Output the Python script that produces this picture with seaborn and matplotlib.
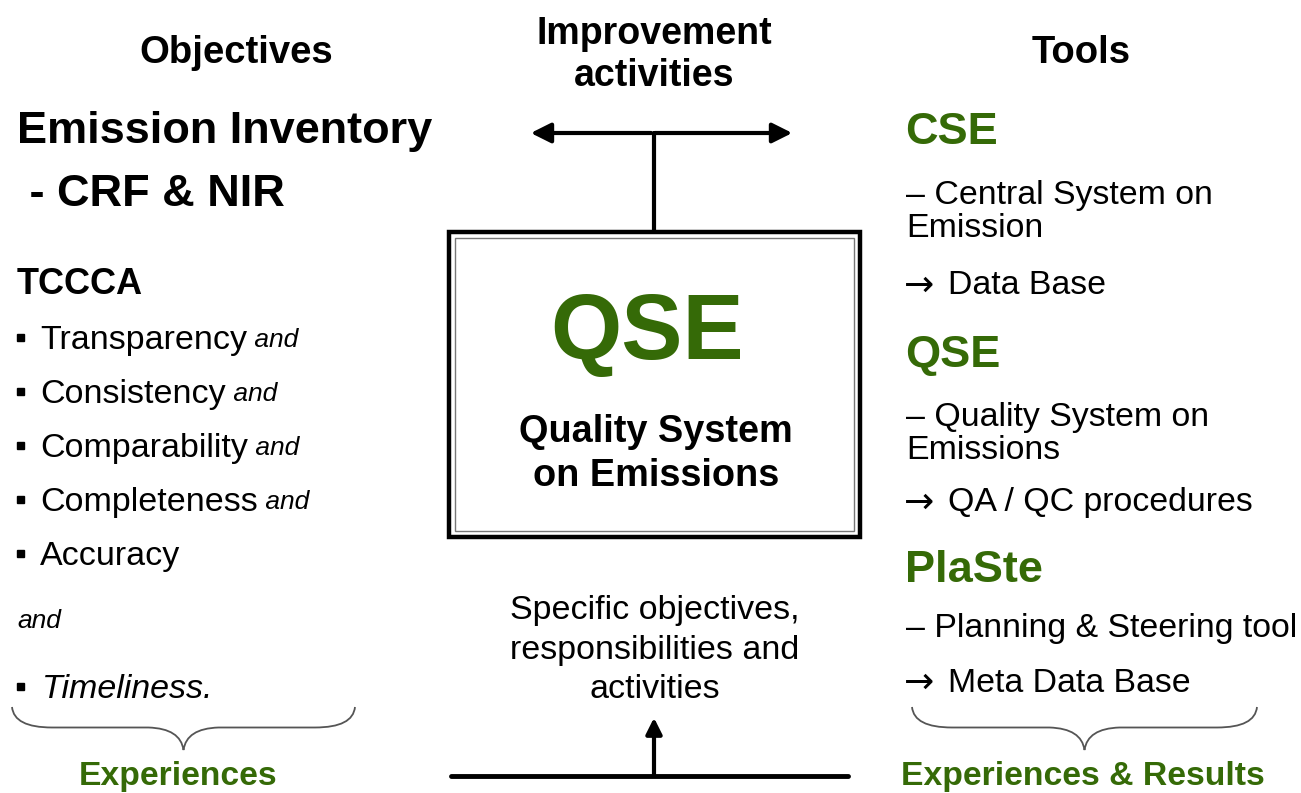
import matplotlib
matplotlib.use("Agg")
import matplotlib.pyplot as plt
import seaborn as sns
from matplotlib.patches import Rectangle, PathPatch
from matplotlib.path import Path

# ---- texts of the diagram ----
headers = ["Objectives", "Improvement\nactivities", "Tools"]
inventory_lines = ["Emission Inventory", " - CRF & NIR"]
tccca_title = "TCCCA"
tccca_items = ["Transparency", "Consistency", "Comparability", "Completeness", "Accuracy"]
tccca_and = "and"
tccca_last = "Timeliness."
box_title = "QSE"
box_subtitle = "Quality System\non Emissions"
bottom_note = "Specific objectives,\nresponsibilities and\nactivities"
tool_names = ["CSE", "QSE", "PlaSte"]
tool_desc = [
    "\u2013 Central System on\nEmission",
    "\u2013 Quality System on\nEmissions",
    "\u2013 Planning & Steering tool",
]
tool_result = ["Data Base", "QA / QC procedures", "Meta Data Base"]
footers = ["Experiences", "Experiences & Results"]

GREEN = "#356a07"
W, H = 1301, 793
DY = 3  # visual centring of text

sns.set_theme(style="white")
plt.rcParams['font.family'] = ['Liberation Sans', 'DejaVu Sans']
plt.rcParams['text.color'] = 'black'

fig = plt.figure(figsize=(W / 100, H / 100), dpi=100)
ax = fig.add_axes([0, 0, 1, 1])
ax.set_xlim(0, W)
ax.set_ylim(H, 0)
ax.axis("off")


def brace(x0, x1, y0, y1):
    xm = (x0 + x1) / 2
    ym = (y0 + y1) / 2 - 1
    verts = [(x0, y0), (x0 + 2, ym), (x0 + 40, ym),
             (xm - 35, ym), (xm - 3, ym + 1), (xm, y1),
             (xm + 3, ym + 1), (xm + 35, ym),
             (x1 - 40, ym), (x1 - 2, ym), (x1, y0)]
    codes = [Path.MOVETO, Path.CURVE3, Path.CURVE3,
             Path.LINETO, Path.CURVE3, Path.CURVE3,
             Path.CURVE3, Path.CURVE3,
             Path.LINETO, Path.CURVE3, Path.CURVE3]
    ax.add_patch(PathPatch(Path(verts, codes), fill=False, lw=1.3, ec="#555555"))


# headers
ax.text(236, 50 + DY, headers[0], fontsize=27.5, fontweight="bold", ha="center", va="center")
ax.text(654, 52 + DY, headers[1], fontsize=27, fontweight="bold", ha="center", va="center",
        linespacing=1.25)
ax.text(1081, 50 + DY, headers[2], fontsize=27.5, fontweight="bold", ha="center", va="center")

# left column
ax.text(17, 128 + DY, inventory_lines[0], fontsize=32.5, fontweight="bold", va="center")
ax.text(17, 192 + DY, inventory_lines[1], fontsize=32.5, fontweight="bold", va="center")
ax.text(17, 281 + DY, tccca_title, fontsize=26, fontweight="bold", va="center")
for i, item in enumerate(tccca_items):
    y = 337 + i * 54
    ax.add_patch(Rectangle((17, y - 3), 7, 7, color="black"))
    t = ax.text(40, y + DY, item, fontsize=24.5, va="center")
    if i < len(tccca_items) - 1:
        ax.annotate(" " + tccca_and, xycoords=t, xy=(1, 0.5), va="center",
                    fontsize=19, style="italic")
ax.text(17, 618 + DY, tccca_and, fontsize=19, style="italic", va="center")
ax.add_patch(Rectangle((17, 683), 7, 7, color="black"))
ax.text(42, 686 + DY, tccca_last, fontsize=24.5, style="italic", va="center")
brace(12, 355, 707, 750)
ax.text(178, 776, footers[0], fontsize=24.2, fontweight="bold", color=GREEN,
        ha="center", va="center")

# middle: box and arrows
ax.add_patch(Rectangle((449, 232), 411, 305, fill=False, lw=3.2, ec="black"))
ax.add_patch(Rectangle((455, 238), 399, 293, fill=False, lw=1.0, ec="#777777"))
ax.text(647, 335, box_title, fontsize=66, fontweight="bold", color=GREEN,
        ha="center", va="center")
ax.text(656, 451 + DY, box_subtitle, fontsize=27.3, fontweight="bold", ha="center",
        va="center", linespacing=1.3)
ax.plot([654, 654], [133, 232], color="black", lw=3)
ax.annotate("", xy=(528, 133), xytext=(654, 133),
            arrowprops=dict(arrowstyle="-|>", lw=3, color="black", mutation_scale=30))
ax.annotate("", xy=(795, 133), xytext=(652, 133),
            arrowprops=dict(arrowstyle="-|>", lw=3, color="black", mutation_scale=30))
ax.text(655, 647 + DY, bottom_note, fontsize=24.5, ha="center", va="center", linespacing=1.37)
ax.plot([451, 848], [776, 776], color="black", lw=3.5)
ax.annotate("", xy=(654, 715), xytext=(654, 777),
            arrowprops=dict(arrowstyle="-|>", lw=3, color="black", mutation_scale=24))

# right column
name_y = [130, 353, 567]
desc_y = [209, 431, 626]
result_y = [283, 500, 680]
for name, ny, desc, dy, res, ry in zip(tool_names, name_y, tool_desc, desc_y,
                                       tool_result, result_y):
    ax.text(905, ny + DY, name, fontsize=32.5, fontweight="bold", color=GREEN, va="center")
    ax.text(906, dy + DY, desc, fontsize=24.4, va="center", linespacing=1.12)
    ax.text(904, ry + DY, "\u2192", fontsize=26, va="center", family="DejaVu Sans")
    ax.text(948, ry + DY, res, fontsize=24.4, va="center")
brace(912, 1257, 707, 750)
ax.text(1083, 776, footers[1], fontsize=24.3, fontweight="bold", color=GREEN,
        ha="center", va="center")

fig.savefig("out.png", dpi=100, facecolor="white")
